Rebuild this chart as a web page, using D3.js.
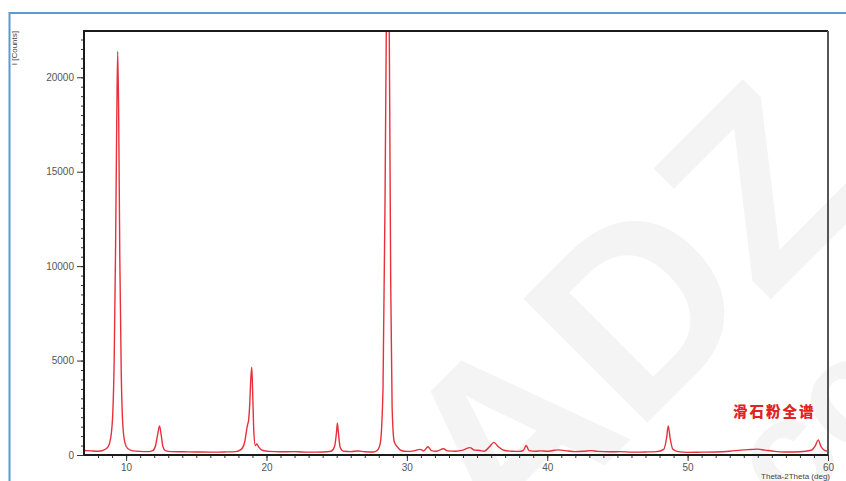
<!DOCTYPE html>
<html>
<head>
<meta charset="utf-8">
<script src="https://cdn.jsdelivr.net/npm/d3@7"></script>
<style>
  html, body { margin: 0; padding: 0; background: #fff; }
  svg { display: block; }
</style>
</head>
<body>
<svg id="chart" width="846" height="481"></svg>
<script>
// Talc powder X-ray diffraction pattern (full scan)
const twoTheta = [
  7.0, 7.5, 8.0, 8.4, 8.7, 8.9, 9.05, 9.15, 9.25, 9.33, 9.40, 9.47, 9.55, 9.65, 9.75, 9.9,
  10.1, 10.4, 11.0, 11.6, 11.9, 12.1, 12.25, 12.38, 12.5, 12.62, 12.8, 13.2, 14.0, 15.0,
  16.0, 17.0, 17.8, 18.2, 18.45, 18.65, 18.72, 18.8, 18.88, 18.95, 19.02, 19.1, 19.2,
  19.31, 19.45, 19.7, 20.2, 21.0, 22.0, 22.5, 23.0, 24.0, 24.6, 24.85, 25.0, 25.05, 25.12,
  25.25, 25.5, 26.0, 26.5, 27.0, 27.6, 27.9, 28.1, 28.3, 28.45, 28.55, 28.65, 28.75, 28.85,
  28.95, 29.1, 29.4, 29.6, 30.0, 30.5, 30.95, 31.2, 31.5, 31.75, 32.1, 32.6, 32.9, 33.5,
  34.0, 34.5, 34.8, 35.2, 35.5, 35.9, 36.2, 36.5, 36.9, 37.5, 38.0, 38.3, 38.5, 38.7, 39.2,
  39.5, 40.0, 40.5, 40.8, 41.3, 42.0, 42.6, 43.1, 43.6, 44.5, 45.2, 46.0, 47.0, 47.8, 48.3,
  48.5, 48.62, 48.75, 48.95, 49.3, 50.0, 51.0, 52.0, 53.0, 53.8, 54.5, 55.0, 55.5, 56.2,
  57.0, 58.0, 58.8, 59.1, 59.3, 59.5, 59.75, 60.0
];
const counts = [
  240, 220, 200, 260, 420, 900, 2200, 5000, 11000, 17500, 21380, 18000, 10500, 4500, 1800, 700,
  350, 230, 190, 180, 230, 500, 1100, 1540, 1050, 450, 230, 180, 170, 160,
  150, 160, 180, 300, 700, 1600, 1800, 2600, 4000, 4650, 3200, 1200, 500,
  580, 420, 250, 190, 170, 180, 160, 150, 160, 200, 450, 1300, 1680, 1200,
  400, 200, 180, 210, 170, 160, 250, 600, 3500, 14000, 24000, 30000, 22000, 9000,
  2500, 700, 360, 240, 190, 220, 300, 220, 440, 230, 200, 330, 220, 200,
  260, 390, 260, 240, 200, 450, 670, 450, 250, 200, 190, 250, 500, 230, 200,
  220, 200, 250, 270, 230, 180, 200, 230, 190, 170, 180, 150, 160, 180, 300,
  900, 1540, 900, 300, 180, 140, 150, 160, 200, 260, 290, 310, 260, 190,
  160, 170, 250, 500, 800, 450, 250, 200
];
const xTicks = [10, 20, 30, 40, 50, 60];
const yTicks = [0, 5000, 10000, 15000, 20000];
const xDomain = [7, 60];
const yDomain = [0, 22450];
const yTitle = "I [Counts]";
const xTitle = "Theta-2Theta (deg)";
const sampleName = "滑石粉全谱";

const svg = d3.select("#chart");
const W = 846, H = 481;
const plot = { left: 84, top: 31, right: 828, bottom: 455 };

// faint diagonal watermark behind everything
const wm = svg.append("g").attr("fill", "#f4f4f4")
  .attr("font-family", "Liberation Sans, Arial, sans-serif")
  .attr("font-weight", "bold");
wm.append("text")
  .attr("transform", "translate(505,565) rotate(-45)")
  .attr("font-size", 255)
  .text("ADZ");
wm.append("text")
  .attr("transform", "translate(790,520) rotate(-45)")
  .attr("font-size", 150)
  .text("cc");

// blue frame of the window
svg.append("path")
  .attr("d", `M${W + 2},13 H9.5 V${H + 2}`)
  .attr("fill", "none")
  .attr("stroke", "#5b9bd5")
  .attr("stroke-width", 2);

const x = d3.scaleLinear().domain(xDomain).range([plot.left, plot.right]);
const y = d3.scaleLinear().domain(yDomain).range([plot.bottom, plot.top]);

svg.append("defs").append("clipPath").attr("id", "plotClip")
  .append("rect")
  .attr("x", plot.left).attr("y", plot.top)
  .attr("width", plot.right - plot.left).attr("height", plot.bottom - plot.top);

// diffraction trace
const pts = twoTheta.map((t, i) => [t, counts[i]]);
const line = d3.line()
  .x(d => x(d[0]))
  .y(d => y(d[1]))
  .curve(d3.curveMonotoneX);
svg.append("path")
  .datum(pts)
  .attr("clip-path", "url(#plotClip)")
  .attr("fill", "none")
  .attr("stroke", "#e8303a")
  .attr("stroke-width", 1.4)
  .attr("stroke-linejoin", "round")
  .attr("d", line);

const tickFont = "Liberation Sans, Arial, sans-serif";

// y axis: minor ticks every 500, labelled majors every 5000
const yMinor = d3.axisLeft(y).tickValues(d3.range(yDomain[0], yDomain[1], 500))
  .tickSize(3).tickFormat("");
svg.append("g").attr("transform", `translate(${plot.left},0)`).call(yMinor)
  .call(g => g.select(".domain").remove())
  .selectAll("line").attr("stroke", "#333");
const yMajor = d3.axisLeft(y).tickValues(yTicks).tickSize(7).tickPadding(3)
  .tickFormat(d3.format("d"));
svg.append("g").attr("transform", `translate(${plot.left},0)`).call(yMajor)
  .call(g => g.select(".domain").remove())
  .call(g => g.selectAll("line").attr("stroke", "#333"))
  .call(g => g.selectAll("text").attr("fill", "#555").attr("font-size", 10)
    .attr("font-family", tickFont));

// x axis: minor ticks every degree, labelled majors every 10
const xMinor = d3.axisBottom(x).tickValues(d3.range(8, 61, 1))
  .tickSize(3).tickFormat("");
svg.append("g").attr("transform", `translate(0,${plot.bottom})`).call(xMinor)
  .call(g => g.select(".domain").remove())
  .selectAll("line").attr("stroke", "#333");
const xMajor = d3.axisBottom(x).tickValues(xTicks).tickSize(6).tickPadding(3)
  .tickFormat(d3.format("d"));
svg.append("g").attr("transform", `translate(0,${plot.bottom})`).call(xMajor)
  .call(g => g.select(".domain").remove())
  .call(g => g.selectAll("line").attr("stroke", "#333"))
  .call(g => g.selectAll("text").attr("fill", "#555").attr("font-size", 10)
    .attr("font-family", tickFont));

// plot frame
svg.append("path")
  .attr("d", `M${plot.left},${plot.bottom} V${plot.top} H${plot.right}`)
  .attr("fill", "none").attr("stroke", "#1a1a1a").attr("stroke-width", 2);
svg.append("path")
  .attr("d", `M${plot.right},${plot.top} V${plot.bottom}`)
  .attr("fill", "none").attr("stroke", "#555").attr("stroke-width", 2);
svg.append("path")
  .attr("d", `M${plot.left},${plot.bottom} H${plot.right}`)
  .attr("fill", "none").attr("stroke", "#1a1a1a").attr("stroke-width", 2);

// axis titles
svg.append("text")
  .attr("transform", `translate(17,${plot.top}) rotate(-90)`)
  .attr("text-anchor", "end")
  .attr("font-family", tickFont).attr("font-size", 8).attr("fill", "#444")
  .text(yTitle);
svg.append("text")
  .attr("x", 830).attr("y", 479)
  .attr("text-anchor", "end")
  .attr("font-family", tickFont).attr("font-size", 8).attr("fill", "#444")
  .text(xTitle);

// sample name
svg.append("text")
  .attr("x", 733).attr("y", 417)
  .attr("font-family", "Noto Sans CJK SC, sans-serif")
  .attr("font-weight", 900).attr("font-size", 14.5)
  .attr("letter-spacing", 2)
  .attr("fill", "#e02424")
  .text(sampleName);
</script>
</body>
</html>
